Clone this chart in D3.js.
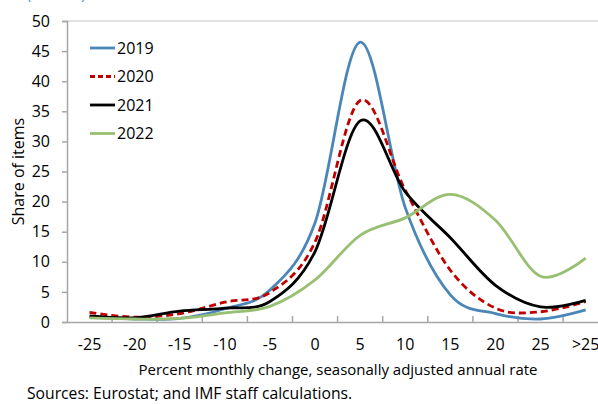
<!DOCTYPE html>
<html>
<head>
<meta charset="utf-8">
<script src="https://cdn.jsdelivr.net/npm/d3@7"></script>
<style>
  body { margin: 0; background: #fff; }
  text { font-family: "Open Sans", "Noto Sans", sans-serif; fill: #000; }
</style>
</head>
<body>
<script>
// categories on the x axis
let categories = ['-25', '-20', '-15', '-10', '-5', '0', '5', '10', '15', '20', '25', '>25']

// share of items per category, by year
let y2019 = [0.8, 0.5, 0.6, 2.2, 5.3, 16.5, 46.5, 19.0, 4.5, 1.4, 0.5, 2.0]
let y2020 = [1.6, 0.8, 1.4, 3.3, 4.9, 13.3, 36.8, 21.9, 8.6, 2.3, 1.7, 3.4]
let y2021 = [1.0, 0.7, 1.8, 2.3, 3.4, 11.7, 33.4, 21.6, 14.0, 6.1, 2.5, 3.6]
let y2022 = [0.7, 0.5, 0.6, 1.5, 2.6, 7.0, 14.4, 17.3, 21.2, 16.9, 7.6, 10.6]

let seriesNames = ['2019', '2020', '2021', '2022']
let yTicks = [0, 5, 10, 15, 20, 25, 30, 35, 40, 45, 50]

let series = [
  { name: seriesNames[0], values: y2019, color: '#4a86b8', dash: null },
  { name: seriesNames[1], values: y2020, color: '#c00000', dash: '7,4' },
  { name: seriesNames[2], values: y2021, color: '#000000', dash: null },
  { name: seriesNames[3], values: y2022, color: '#98bf72', dash: null }
]

let width = 598, height = 404
let margin = { top: 21, bottom: 82, left: 67 }
let step = 45.1

let svg = d3.select('body').append('svg').attr('width', width).attr('height', height)

let xScale = d3.scaleBand().domain(categories)
  .range([margin.left, margin.left + step * categories.length]).padding(0)
let yScale = d3.scaleLinear().domain([0, 50]).range([height - margin.bottom, margin.top])

// unit label, mostly cut off above the chart as in the source
svg.append('text').attr('x', 27).attr('y', -1).text('(Percent)')
  .style('font-size', '14px').style('fill', '#4a86b8')

// top frame line
svg.append('line').attr('x1', margin.left).attr('x2', width)
  .attr('y1', yScale(50)).attr('y2', yScale(50))
  .attr('stroke', '#d9d9d9').attr('stroke-width', 1.5)

// y axis
let yAxis = svg.append('g').attr('transform', `translate(${margin.left},0)`)
  .call(d3.axisLeft(yScale).tickValues(yTicks).tickSize(5).tickPadding(12))
yAxis.selectAll('text').style('font-size', '16px')
yAxis.selectAll('line, path').attr('stroke', '#a6a6a6').attr('stroke-width', 1.5)

// x axis
let xAxis = svg.append('g').attr('transform', `translate(0,${height - margin.bottom})`)
  .call(d3.axisBottom(xScale).tickSize(0).tickPadding(17))
xAxis.selectAll('text').style('font-size', '16px')
xAxis.select('path').attr('stroke', '#a6a6a6').attr('stroke-width', 1.5)
xAxis.selectAll('.bnd').data(categories.slice(1)).enter().append('line')
  .attr('x1', d => xScale(d)).attr('x2', d => xScale(d))
  .attr('y1', 0).attr('y2', -6)
  .attr('stroke', '#a6a6a6').attr('stroke-width', 1.5)

// lines
let line = d3.line()
  .x((d, i) => xScale(categories[i]) + xScale.bandwidth() / 2)
  .y(d => yScale(d))
  .curve(d3.curveCatmullRom.alpha(0))

svg.selectAll('.series').data(series).enter().append('path')
  .attr('d', d => line(d.values))
  .attr('fill', 'none')
  .attr('stroke', d => d.color)
  .attr('stroke-width', 2.8)
  .attr('stroke-dasharray', d => d.dash)

// legend
let legend = svg.selectAll('.legend').data(series).enter().append('g')
  .attr('transform', (d, i) => `translate(90,${48 + i * 28.5})`)
legend.append('line').attr('x1', 0).attr('x2', 25).attr('y1', 0).attr('y2', 0)
  .attr('stroke', d => d.color).attr('stroke-width', 2.8)
  .attr('stroke-dasharray', d => d.dash ? '5,3' : null)
legend.append('text').attr('x', 27).attr('y', 0).attr('dy', '0.35em')
  .text(d => d.name).style('font-size', '16px')

// axis titles
svg.append('text').attr('x', 0 - (margin.top + height - margin.bottom) / 2).attr('y', 24)
  .attr('transform', 'rotate(-90)').style('text-anchor', 'middle')
  .style('font-size', '16px').text('Share of items')

svg.append('text').attr('x', 338).attr('y', 375).style('text-anchor', 'middle')
  .style('font-size', '15px').text('Percent monthly change, seasonally adjusted annual rate')

svg.append('text').attr('x', 27).attr('y', 399)
  .style('font-size', '15.7px').text('Sources: Eurostat; and IMF staff calculations.')
</script>
</body>
</html>
